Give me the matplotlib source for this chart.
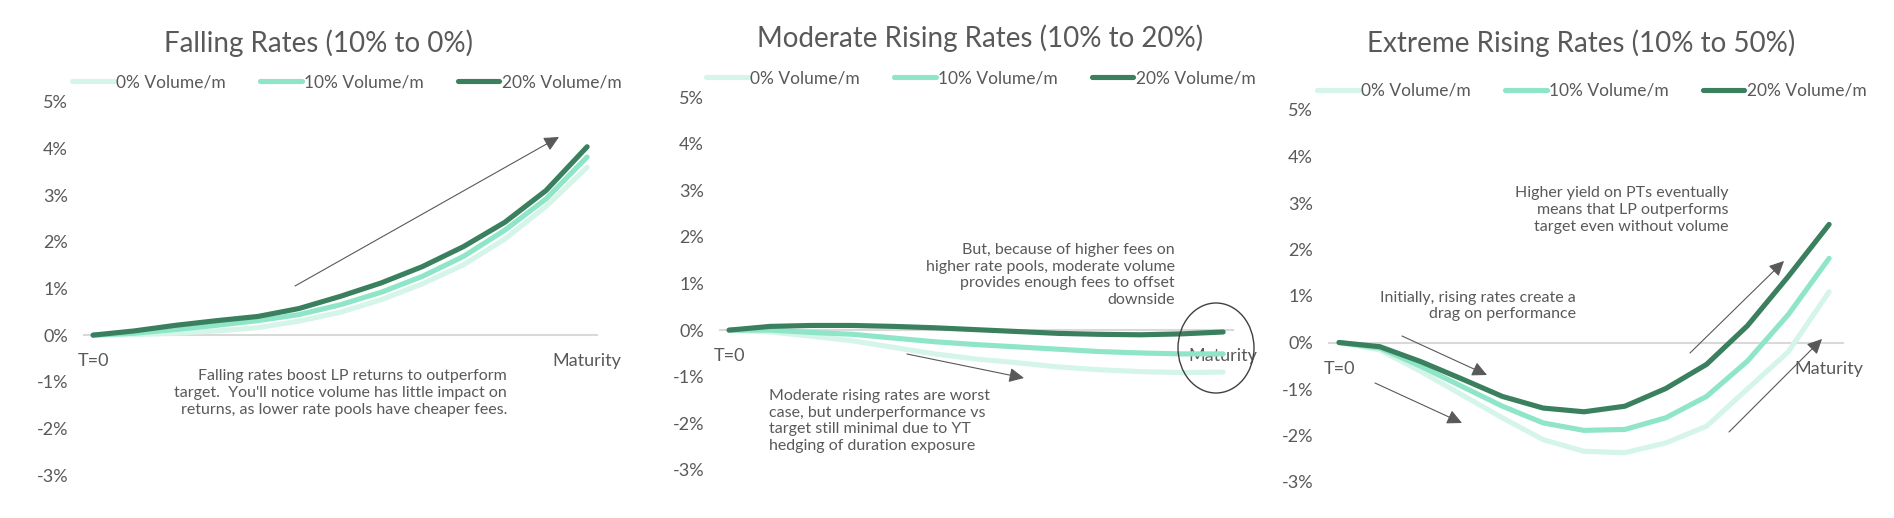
import matplotlib
matplotlib.use("Agg")
import matplotlib.pyplot as plt
from matplotlib.patches import Ellipse, FancyArrowPatch

W, H = 1894, 518
plt.rcParams['font.family'] = ['Lato', 'DejaVu Sans']
TXT = '#595959'

# ---------------- data (returns vs target, %) ----------------
periods = ["T=0", "", "", "", "", "", "", "", "", "", "", "", "Maturity"]
series_names = ["0% Volume/m", "10% Volume/m", "20% Volume/m"]
series_colors = ["#d5f5e9", "#8fe5c7", "#3a7f5e"]

falling_vol0 = [0, 0.01, 0.04, 0.09, 0.16, 0.30, 0.49, 0.76, 1.10, 1.51, 2.06, 2.76, 3.60]
falling_vol10 = [0, 0.04, 0.12, 0.21, 0.31, 0.44, 0.65, 0.92, 1.26, 1.69, 2.25, 2.92, 3.82]
falling_vol20 = [0, 0.09, 0.21, 0.31, 0.40, 0.57, 0.83, 1.12, 1.47, 1.90, 2.42, 3.10, 4.04]

moderate_vol0 = [0, -0.04, -0.13, -0.23, -0.37, -0.51, -0.62, -0.70, -0.79, -0.85, -0.89, -0.91, -0.90]
moderate_vol10 = [0, 0.00, -0.05, -0.09, -0.17, -0.25, -0.31, -0.36, -0.41, -0.46, -0.49, -0.51, -0.51]
moderate_vol20 = [0, 0.08, 0.10, 0.10, 0.08, 0.05, 0.01, -0.03, -0.07, -0.09, -0.10, -0.08, -0.04]

extreme_vol0 = [0, -0.16, -0.62, -1.12, -1.62, -2.09, -2.34, -2.37, -2.16, -1.80, -1.00, -0.20, 1.09]
extreme_vol10 = [0, -0.12, -0.51, -0.94, -1.37, -1.73, -1.89, -1.87, -1.62, -1.16, -0.40, 0.60, 1.81]
extreme_vol20 = [0, -0.09, -0.41, -0.78, -1.16, -1.41, -1.49, -1.37, -0.99, -0.47, 0.36, 1.42, 2.54]

titles = ["Falling Rates (10% to 0%)",
          "Moderate Rising Rates (10% to 20%)",
          "Extreme Rising Rates (10% to 50%)"]
y_ticks = [-3, -2, -1, 0, 1, 2, 3, 4, 5]
y_tick_labels = ["-3%", "-2%", "-1%", "0%", "1%", "2%", "3%", "4%", "5%"]

# ---------------- layout helpers ----------------
fig = plt.figure(figsize=(W / 100, H / 100), dpi=100)


def box(l, r, t, b):
    return [l / W, 1 - b / H, (r - l) / W, (b - t) / H]


def fp(x, y):
    return (x / W, 1 - y / H)


panels = [
    dict(data=[falling_vol0, falling_vol10, falling_vol20], title=titles[0],
         tpos=(318, 43), rect=box(84, 597, 102, 475), xlim=(-0.22, 12.24), leg=(72, 82)),
    dict(data=[moderate_vol0, moderate_vol10, moderate_vol20], title=titles[1],
         tpos=(980, 38), rect=box(720, 1233, 97, 470), xlim=(-0.22, 12.24), leg=(706, 78)),
    dict(data=[extreme_vol0, extreme_vol10, extreme_vol20], title=titles[2],
         tpos=(1581, 43), rect=box(1329, 1843, 110, 482), xlim=(-0.245, 12.34), leg=(1317, 91)),
]

x = list(range(len(periods)))
for p in panels:
    ax = fig.add_axes(p['rect'])
    lines = []
    for vals, name, col in zip(p['data'], series_names, series_colors):
        ln, = ax.plot(x, vals, color=col, lw=3.7, solid_capstyle='round',
                      solid_joinstyle='round', label=name)
        lines.append(ln)
    ax.set_xlim(*p['xlim'])
    ax.set_ylim(-3, 5)
    ax.set_yticks(y_ticks, labels=y_tick_labels)
    ax.set_xticks(x, labels=periods)
    for s in ['top', 'right', 'left']:
        ax.spines[s].set_visible(False)
    ax.spines['bottom'].set_position(('data', 0))
    ax.spines['bottom'].set_color('#d9d9d9')
    ax.spines['bottom'].set_linewidth(1.5)
    ax.spines['bottom'].set_zorder(0)
    ax.tick_params(axis='y', length=0, pad=11.5, labelsize=13, labelcolor=TXT)
    ax.tick_params(axis='x', length=0, pad=13, labelsize=13, labelcolor=TXT)
    ax.patch.set_alpha(0)
    fig.text(*fp(*p['tpos']), p['title'], ha='center', va='center', fontsize=20, color=TXT)
    ax.legend(lines, series_names, loc='center left', bbox_to_anchor=fp(*p['leg']),
              bbox_transform=fig.transFigure, ncol=3, frameon=False, borderpad=0,
              borderaxespad=0, handlelength=2.4, handletextpad=0.15, columnspacing=1.95,
              fontsize=12.5, labelcolor=TXT)

# ---------------- annotations ----------------
ann_kw = dict(fontsize=11.5, color=TXT, linespacing=1.25, va='center')
fig.text(*fp(507, 393), "Falling rates boost LP returns to outperform\n"
         "target.  You'll notice volume has little impact on\n"
         "returns, as lower rate pools have cheaper fees.", ha='right',
         multialignment='right', **ann_kw)
fig.text(*fp(1175, 275), "But, because of higher fees on\nhigher rate pools, moderate volume\n"
         "provides enough fees to offset\ndownside", ha='right', multialignment='right', **ann_kw)
fig.text(*fp(769, 421), "Moderate rising rates are worst\ncase, but underperformance vs\n"
         "target still minimal due to YT\nhedging of duration exposure", ha='left',
         multialignment='left', **ann_kw)
fig.text(*fp(1728, 210), "Higher yield on PTs eventually\nmeans that LP outperforms\n"
         "target even without volume", ha='right', multialignment='right', **ann_kw)
fig.text(*fp(1576, 306), "Initially, rising rates create a\ndrag on performance", ha='right',
         multialignment='right', **ann_kw)

arrows = [((295, 286), (559, 137)),
          ((907, 354), (1024, 378)),
          ((1402, 336), (1487, 375)),
          ((1375, 383), (1462, 423)),
          ((1690, 353), (1784, 261)),
          ((1729, 432), (1822, 339))]
for a, b in arrows:
    fig.add_artist(FancyArrowPatch(fp(*a), fp(*b), transform=fig.transFigure,
                                   arrowstyle='-|>,head_length=0.45,head_width=0.22',
                                   mutation_scale=20, color=TXT, lw=0.8,
                                   shrinkA=0, shrinkB=0))

fig.add_artist(Ellipse(fp(1216, 348), 76 / W, 90 / H, transform=fig.transFigure,
                       fill=False, edgecolor='#404040', lw=1.0))

fig.savefig('out.png', dpi=100)
